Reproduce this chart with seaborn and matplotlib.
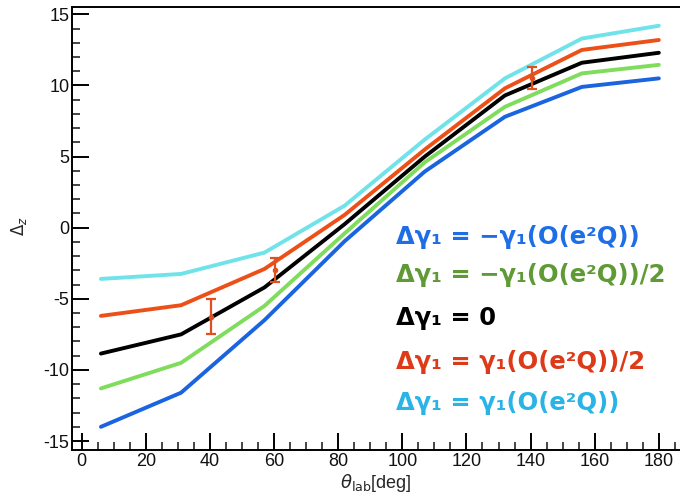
import matplotlib
matplotlib.use("Agg")
import matplotlib.pyplot as plt
from matplotlib.ticker import MultipleLocator
import numpy as np
import pandas as pd
import seaborn as sns

# ---- data ----
theta = [6, 31, 57, 82, 107, 132, 156, 180]
dz_minus_full = [-14.0, -11.6, -6.5, -0.95, 3.95, 7.8, 9.9, 10.5]
dz_minus_half = [-11.3, -9.5, -5.5, -0.4, 4.6, 8.5, 10.85, 11.45]
dz_zero = [-8.85, -7.5, -4.2, 0.25, 5.0, 9.3, 11.6, 12.3]
dz_plus_half = [-6.2, -5.45, -2.9, 0.9, 5.5, 9.8, 12.5, 13.2]
dz_plus_full = [-3.6, -3.25, -1.75, 1.55, 6.2, 10.5, 13.3, 14.2]

err_theta = [40.4, 60.3, 140.4]
err_center = [-6.25, -3.0, 10.5]
err_half = [1.25, 0.85, 0.78]

series_names = ["minus_full", "minus_half", "zero", "plus_half", "plus_full"]
series_values = [dz_minus_full, dz_minus_half, dz_zero, dz_plus_half, dz_plus_full]
line_colors = ["#1a64e0", "#80dc5c", "#000000", "#ec5018", "#70e2ea"]
legend_labels = [
    "Δγ₁ = −γ₁(O(e²Q))",
    "Δγ₁ = −γ₁(O(e²Q))/2",
    "Δγ₁ = 0",
    "Δγ₁ = γ₁(O(e²Q))/2",
    "Δγ₁ = γ₁(O(e²Q))",
]
legend_colors = ["#1e6ee6", "#5f9a35", "#000000", "#dc3a18", "#2ab4e6"]

xticks = [0, 20, 40, 60, 80, 100, 120, 140, 160, 180]
yticks = [-15, -10, -5, 0, 5, 10, 15]

df = pd.DataFrame({
    "theta": np.tile(theta, len(series_names)),
    "dz": np.concatenate(series_values),
    "series": np.repeat(series_names, len(theta)),
})

sns.set_theme(style="white")
plt.rcParams["font.family"] = ["Liberation Sans", "DejaVu Sans"]
plt.rcParams["axes.unicode_minus"] = False

W, H = 680, 497
fig = plt.figure(figsize=(W / 100, H / 100), dpi=100)
ax = fig.add_axes([72.3 / W, 1 - 450 / H, 1 - 72.3 / W, (450 - 6.7) / H])

sns.lineplot(data=df, x="theta", y="dz", hue="series", hue_order=series_names,
             palette=line_colors, linewidth=2.8, legend=False, ax=ax,
             estimator=None, sort=False)

ax.errorbar(err_theta, err_center, yerr=err_half, fmt="o", ms=3,
            color="#e0501e", ecolor="#e0501e", elinewidth=1.6,
            capsize=3.8, capthick=1.6, zorder=5)

ax.set_xlim(-2.93, 186.6)
ax.set_ylim(-15.63, 15.54)
ax.set_xticks(xticks)
ax.set_yticks(yticks)
ax.xaxis.set_minor_locator(MultipleLocator(5))
ax.yaxis.set_minor_locator(MultipleLocator(1))
ax.tick_params(which="major", direction="in", length=12, width=1.4,
               labelsize=13, colors="black", pad=2)
ax.tick_params(which="minor", direction="in", length=6, width=1.2)
ax.tick_params(axis="both", which="both", left=True, bottom=True,
               top=False, right=False)
for lbl in ax.get_xticklabels() + ax.get_yticklabels():
    lbl.set_color("#111111")

for side in ["left", "bottom", "top"]:
    ax.spines[side].set_visible(True)
    ax.spines[side].set_color("black")
    ax.spines[side].set_linewidth(1.4)
ax.spines["right"].set_visible(False)

ax.set_xlabel(r"$\theta_{\rm lab}$[deg]", fontsize=13)
ax.xaxis.set_label_coords(0.5, -(483 - 450) / (450 - 6.7))
ax.xaxis.label.set_va("center")
ax.set_ylabel(r"$\Delta_{z}$", fontsize=12)
ax.yaxis.set_label_coords(-(72.3 - 19) / (W - 72.3), (450 - 226) / (450 - 6.7))
ax.yaxis.label.set_va("center")

legend_y = [236.7, 275, 318.3, 361.7, 403]
for lab, col, yy in zip(legend_labels, legend_colors, legend_y):
    fig.text(396 / W, 1 - yy / H, lab, color=col, fontsize=17.5,
             fontweight="bold", family=["DejaVu Sans"], ha="left", va="center")

fig.savefig("out.png", dpi=100)
